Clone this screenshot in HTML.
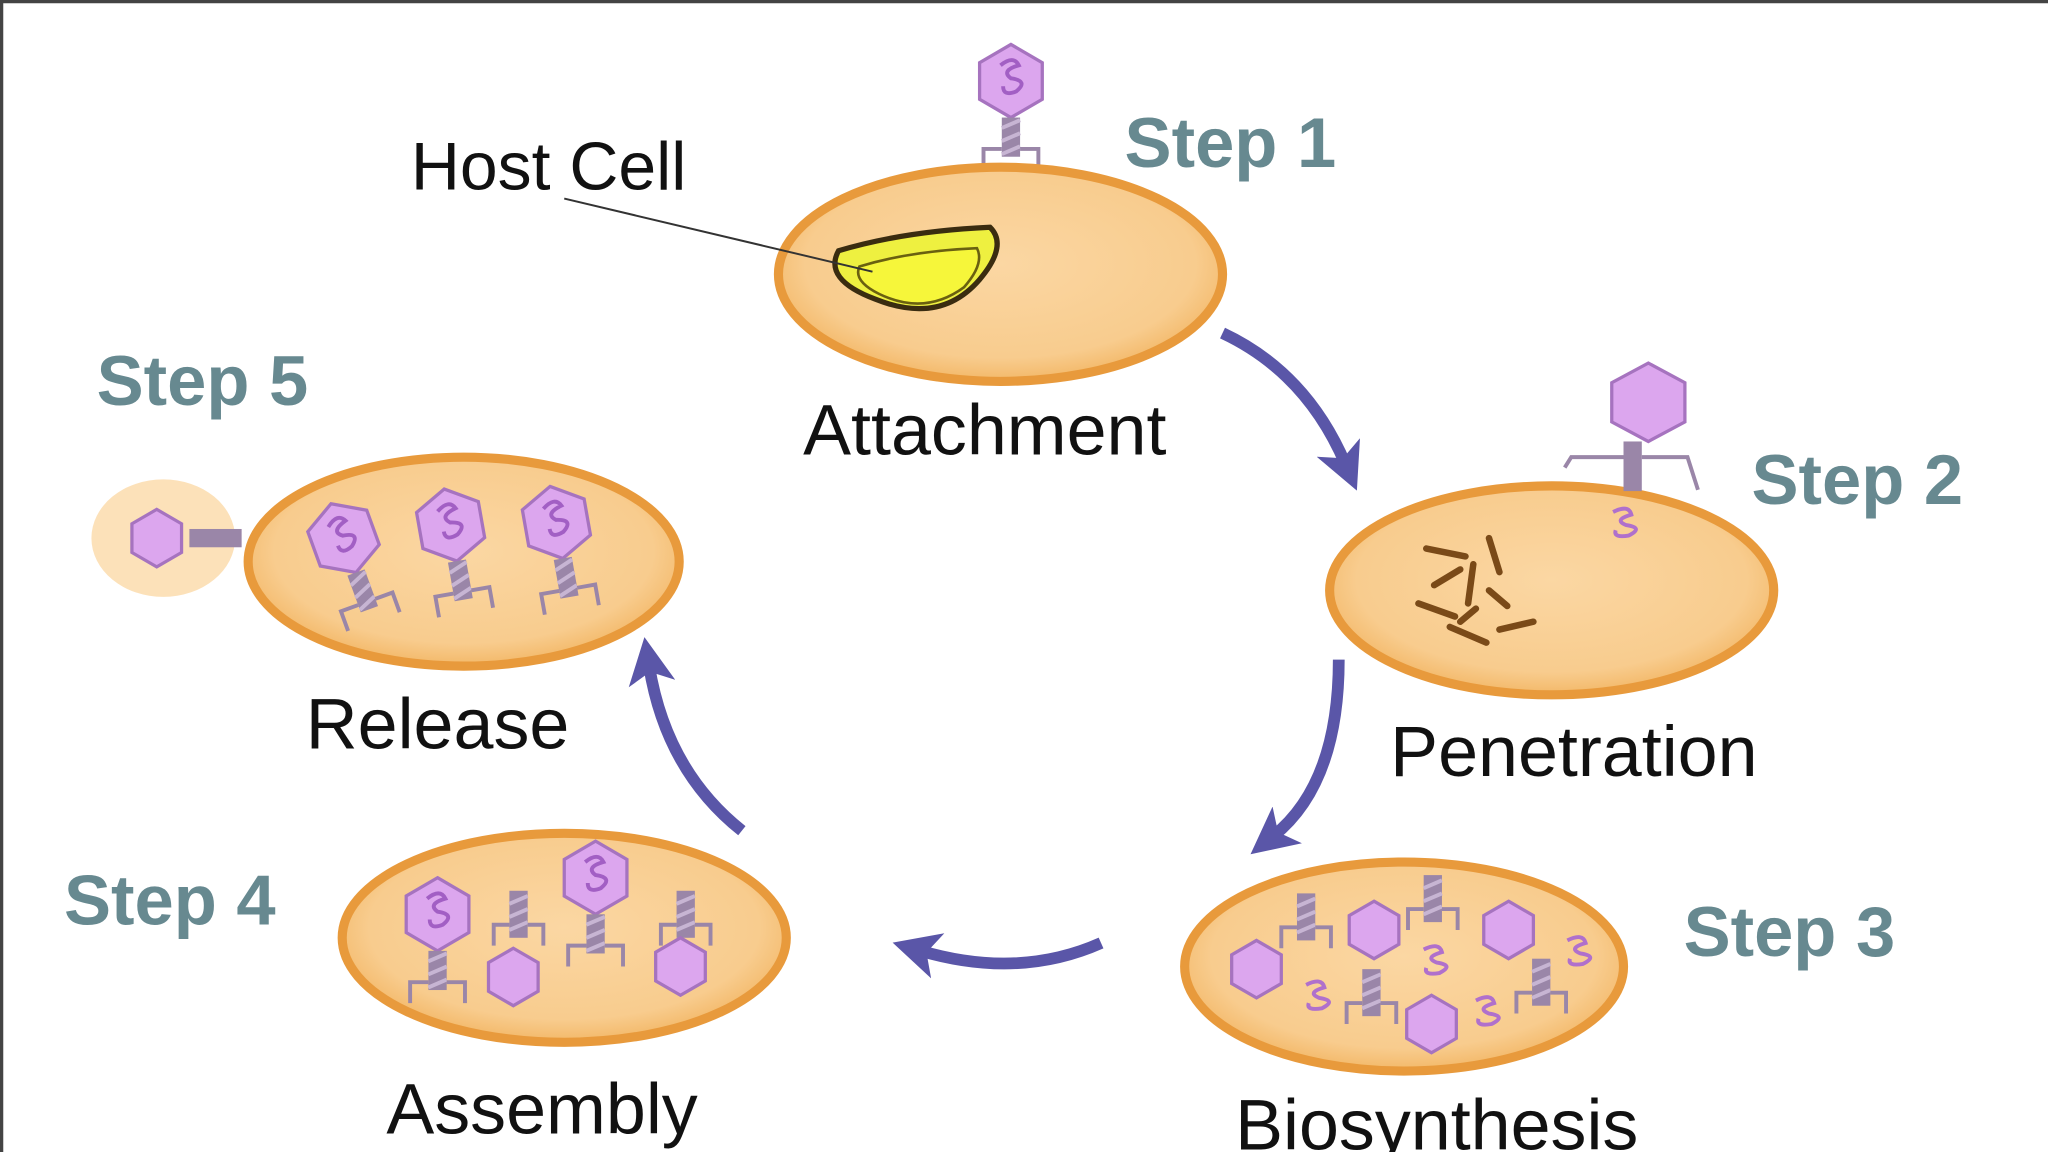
<!DOCTYPE html>
<html><head><meta charset="utf-8"><style>
html,body{margin:0;padding:0;background:#fff;}
svg{display:block;}
text{font-family:"Liberation Sans",sans-serif;}
</style></head><body>
<svg width="2048" height="1152" viewBox="0 0 1568 882" xmlns="http://www.w3.org/2000/svg">
<defs>
<radialGradient id="cell" cx="50%" cy="45%" r="55%">
<stop offset="0" stop-color="#fbd7a3"/><stop offset="0.8" stop-color="#f8cc8e"/><stop offset="1" stop-color="#f3b868"/>
</radialGradient>
<g id="phage">
<polygon points="0,-28 24,-14 24,14 0,28 -24,14 -24,-14" fill="#dca6ee" stroke="#a673bf" stroke-width="2.5"/>
<path d="M-8,-12 q10,-8 14,0 q-14,4 -6,10 q14,2 4,10 q-10,4 -10,-4" fill="none" stroke="#a25fc4" stroke-width="3"/>
<rect x="-7" y="28" width="14" height="30" fill="#9a86a8"/>
<path d="M-7,36 l14,-6 M-7,46 l14,-6 M-7,56 l14,-6" stroke="#c7b5d3" stroke-width="3"/>
<path d="M-7,52 h-14 v16 M7,52 h14 v16" fill="none" stroke="#9a86a8" stroke-width="3"/>
</g>
<g id="hex"><polygon points="0,-22 19,-11 19,11 0,22 -19,11 -19,-11" fill="#dca6ee" stroke="#a673bf" stroke-width="2.5"/></g>
<g id="tail"><rect x="-7" y="-18" width="14" height="36" fill="#9a86a8"/><path d="M-7,-8 l14,-6 M-7,2 l14,-6 M-7,12 l14,-6" stroke="#c7b5d3" stroke-width="3"/><path d="M-7,8 h-12 v16 M7,8 h12 v16" fill="none" stroke="#9a86a8" stroke-width="3"/></g>
<g id="dna"><path d="M-10,-8 q12,-6 14,2 q-14,4 -4,8 q14,2 2,8 q-12,2 -10,-4" fill="none" stroke="#b070cc" stroke-width="3"/></g>
<marker id="ah" markerWidth="4" markerHeight="4" refX="1.5" refY="2" orient="auto"><path d="M0,0 L4,2 L0,4 L1,2 Z" fill="#5a56a8"/></marker>
</defs>
<rect x="0" y="0" width="1568" height="882" fill="#fff"/>
<path d="M1,882 V1 H1568" fill="none" stroke="#444" stroke-width="3"/>

<!-- Step1 -->
<use href="#phage" x="774" y="62"/>
<ellipse cx="766" cy="210" rx="170" ry="82" fill="url(#cell)" stroke="#e89a3c" stroke-width="7"/>
<path d="M642,192 q50,-15 116,-18 q14,14 -8,40 q-30,35 -80,15 q-40,-15 -28,-37 z" fill="#eef040" stroke="#3a2c10" stroke-width="4"/>
<path d="M658,204 q40,-12 90,-14 q6,12 -10,30 q-30,22 -65,5 q-20,-10 -15,-21 z" fill="#f6f63a" stroke="#6a6010" stroke-width="2"/>
<line x1="432" y1="152" x2="668" y2="208" stroke="#333" stroke-width="1.5"/>
<text x="420" y="145" font-size="52" text-anchor="middle" fill="#111">Host Cell</text>
<text x="754" y="348" font-size="55" text-anchor="middle" fill="#111">Attachment</text>
<text x="942" y="128" font-size="54" font-weight="bold" text-anchor="middle" fill="#678990">Step 1</text>

<!-- Step2 -->
<ellipse cx="1188" cy="452" rx="170" ry="80" fill="url(#cell)" stroke="#e89a3c" stroke-width="7"/>
<polygon points="1262,278 1290,293 1290,323 1262,338 1234,323 1234,293" fill="#dca6ee" stroke="#a673bf" stroke-width="2.5"/>
<rect x="1243" y="338" width="14" height="38" fill="#9a86a8"/>
<path d="M1243,350 h-40 l-5,8 M1257,350 h35 l8,25" fill="none" stroke="#9a86a8" stroke-width="3"/>
<use href="#dna" x="1245" y="400"/>
<g stroke="#7a4a18" stroke-width="5" stroke-linecap="round">
<path d="M1092,420 l30,6 M1140,412 l8,26 M1098,448 l20,-12 M1128,432 l-4,30 M1086,462 l28,10 M1140,452 l14,12 M1110,480 l28,12 M1148,482 l26,-6 M1130,466 l-12,10"/>
</g>
<text x="1205" y="594" font-size="55" text-anchor="middle" fill="#111">Penetration</text>
<text x="1422" y="386" font-size="54" font-weight="bold" text-anchor="middle" fill="#678990">Step 2</text>

<!-- Step3 -->
<ellipse cx="1075" cy="740" rx="168" ry="80" fill="url(#cell)" stroke="#e89a3c" stroke-width="7"/>
<use href="#hex" x="962" y="742"/><use href="#hex" x="1052" y="712"/><use href="#hex" x="1155" y="712"/><use href="#hex" x="1096" y="784"/>
<use href="#tail" x="1000" y="702"/><use href="#tail" x="1097" y="688"/><use href="#tail" x="1050" y="760"/><use href="#tail" x="1180" y="752"/>
<use href="#dna" x="1010" y="762"/><use href="#dna" x="1100" y="735"/><use href="#dna" x="1210" y="728"/><use href="#dna" x="1140" y="774"/>
<text x="1100" y="880" font-size="55" text-anchor="middle" fill="#111">Biosynthesis</text>
<text x="1370" y="732" font-size="54" font-weight="bold" text-anchor="middle" fill="#678990">Step 3</text>

<!-- Step4 -->
<ellipse cx="432" cy="718" rx="170" ry="80" fill="url(#cell)" stroke="#e89a3c" stroke-width="7"/>
<use href="#phage" x="335" y="700"/>
<use href="#tail" x="397" y="700"/><use href="#hex" x="393" y="748"/>
<use href="#phage" x="456" y="672"/>
<use href="#tail" x="525" y="700"/><use href="#hex" x="521" y="740"/>
<text x="415" y="868" font-size="55" text-anchor="middle" fill="#111">Assembly</text>
<text x="130" y="708" font-size="54" font-weight="bold" text-anchor="middle" fill="#678990">Step 4</text>

<!-- Step5 -->
<ellipse cx="125" cy="412" rx="55" ry="45" fill="#fbd9a8" opacity="0.8"/>
<ellipse cx="355" cy="430" rx="165" ry="80" fill="url(#cell)" stroke="#e89a3c" stroke-width="7"/>
<use href="#hex" x="120" y="412"/>
<rect x="145" y="405" width="40" height="14" fill="#9a86a8"/>
<use href="#phage" x="263" y="412" transform="rotate(-20 263 412)"/>
<use href="#phage" x="345" y="402" transform="rotate(-10 345 402)"/>
<use href="#phage" x="426" y="400" transform="rotate(-10 426 400)"/>
<text x="335" y="573" font-size="55" text-anchor="middle" fill="#111">Release</text>
<text x="155" y="310" font-size="54" font-weight="bold" text-anchor="middle" fill="#678990">Step 5</text>

<!-- arrows -->
<g fill="none" stroke="#5a56a8" stroke-width="9" marker-end="url(#ah)">
<path d="M936,255 Q1000,285 1030,355"/>
<path d="M1025,505 Q1025,600 975,640"/>
<path d="M843,722 Q780,750 705,728"/>
<path d="M568,636 Q510,590 497,510"/>
</g>
</svg>
</body></html>
